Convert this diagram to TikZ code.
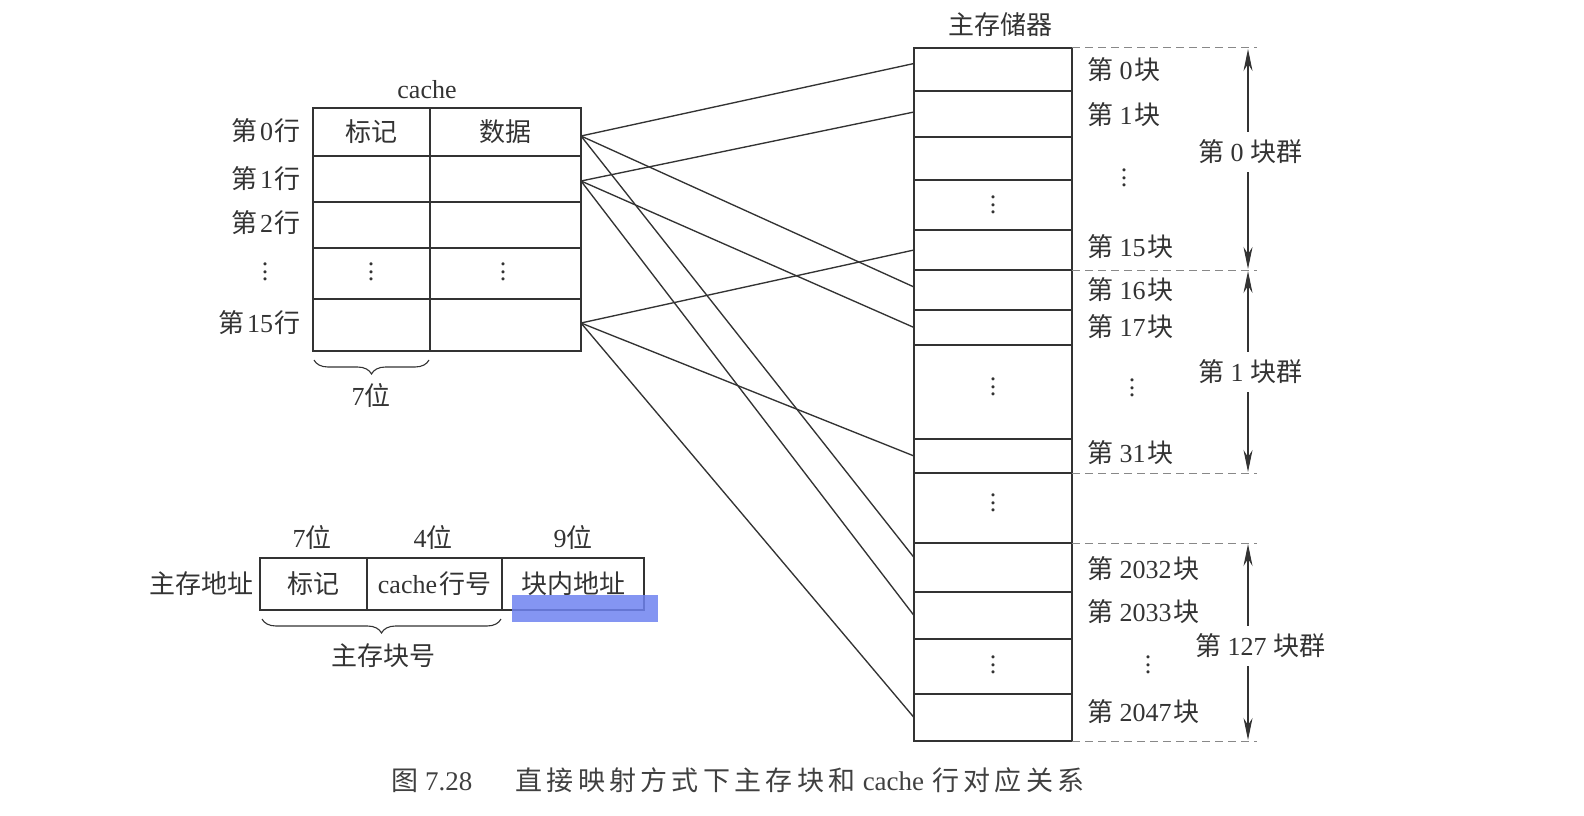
\documentclass[tikz,border=0pt]{standalone}
\usepackage{fontspec}
\setmainfont{Liberation Serif}
\newfontfamily\cjk{Noto Sans CJK SC}
\newcommand\zh[1]{{\cjk #1}}
\newcommand\vdts{\vbox{\baselineskip=7.5pt\lineskiplimit=-20pt\hbox{.}\hbox{.}\hbox{.}}}
\def\spc#1{\ifx\relax#1\else{\cjk #1}\kern4.3pt\expandafter\spc\fi}
\usetikzlibrary{arrows.meta,decorations.pathreplacing}
\definecolor{ink}{HTML}{333333}
\definecolor{dashink}{HTML}{888888}
\definecolor{hl}{RGB}{110,130,240}
\begin{document}
\begin{tikzpicture}[x=1pt,y=-1pt,
  every node/.style={font=\fontsize{26}{30}\selectfont, text=ink, inner sep=0pt, outer sep=0pt},
  cell/.style={draw=ink, line width=1.3pt, anchor=north west},
  conn/.style={draw=ink, line width=1.35pt},
  dashln/.style={draw=dashink, line width=1pt, dash pattern=on 8pt off 5pt},
  garrow/.style={draw=ink, line width=1.1pt, {Stealth[length=22pt,width=9pt]}-{Stealth[length=22pt,width=9pt]}},
  brc/.style={draw=ink, line width=1.1pt, decorate, decoration={brace, amplitude=14pt, mirror}}]
\useasboundingbox (0,0) rectangle (1584,816);

% ---------- cache ----------
\node (cachetitle) at (427,90) {cache};
\node[cell, minimum width=117, minimum height=48] (c0t) at (313,108) {\zh{标记}};
\node[cell, minimum width=151, minimum height=48] (c0d) at (430,108) {\zh{数据}};
\node[cell, minimum width=117, minimum height=46] (c1t) at (313,156) {};
\node[cell, minimum width=151, minimum height=46] (c1d) at (430,156) {};
\node[cell, minimum width=117, minimum height=46] (c2t) at (313,202) {};
\node[cell, minimum width=151, minimum height=46] (c2d) at (430,202) {};
\node[cell, minimum width=117, minimum height=51] (cxt) at (313,248) {};
\node[cell, minimum width=151, minimum height=51] (cxd) at (430,248) {};
\node (cxtd) at (371,272) {\vdts};
\node (cxdd) at (503,272) {\vdts};
\node[cell, minimum width=117, minimum height=52] (c15t) at (313,299) {};
\node[cell, minimum width=151, minimum height=52] (c15d) at (430,299) {};

\node[anchor=east] (r0) at (300,131) {\zh{第}\kern3pt0\kern1pt\zh{行}};
\node[anchor=east] (r1) at (300,179) {\zh{第}\kern3pt1\kern1pt\zh{行}};
\node[anchor=east] (r2) at (300,223) {\zh{第}\kern3pt2\kern1pt\zh{行}};
\node (rx) at (265,272) {\vdts};
\node[anchor=east] (r15) at (300,323) {\zh{第}\kern3pt15\kern1pt\zh{行}};

\coordinate (bra) at (314,360);
\coordinate (brb) at (429,360);
\draw[brc] (bra) -- (brb);
\node (sevenbit) at (371,395) {7\zh{位}};

% ---------- main memory ----------
\node (memtitle) at (1000,25) {\zh{主存储器}};
\node[cell, minimum width=158, minimum height=43] (m0) at (914,48) {};
\node[cell, minimum width=158, minimum height=46] (m1) at (914,91) {};
\node[cell, minimum width=158, minimum height=43] (ma) at (914,137) {};
\node[cell, minimum width=158, minimum height=50] (mb) at (914,180) {};
\node[cell, minimum width=158, minimum height=40] (m15) at (914,230) {};
\node[cell, minimum width=158, minimum height=40] (m16) at (914,270) {};
\node[cell, minimum width=158, minimum height=35] (m17) at (914,310) {};
\node[cell, minimum width=158, minimum height=94] (mc) at (914,345) {};
\node[cell, minimum width=158, minimum height=34] (m31) at (914,439) {};
\node[cell, minimum width=158, minimum height=70] (md) at (914,473) {};
\node[cell, minimum width=158, minimum height=49] (m2032) at (914,543) {};
\node[cell, minimum width=158, minimum height=47] (m2033) at (914,592) {};
\node[cell, minimum width=158, minimum height=55] (me) at (914,639) {};
\node[cell, minimum width=158, minimum height=47] (m2047) at (914,694) {};
\node (mbd) at (993,205) {\vdts};
\node (mcd) at (993,387) {\vdts};
\node (mdd) at (993,503) {\vdts};
\node (med) at (993,665) {\vdts};

% block labels
\node[anchor=west] (l0) at (1087,70) {\zh{第} 0\kern2pt\zh{块}};
\node[anchor=west] (l1) at (1087,115) {\zh{第} 1\kern2pt\zh{块}};
\node (lx0) at (1124,178) {\vdts};
\node[anchor=west] (l15) at (1087,247) {\zh{第} 15\kern2pt\zh{块}};
\node[anchor=west] (l16) at (1087,290) {\zh{第} 16\kern2pt\zh{块}};
\node[anchor=west] (l17) at (1087,327) {\zh{第} 17\kern2pt\zh{块}};
\node (lx1) at (1132,388) {\vdts};
\node[anchor=west] (l31) at (1087,453) {\zh{第} 31\kern2pt\zh{块}};
\node[anchor=west] (l2032) at (1087,569) {\zh{第} 2032\kern2pt\zh{块}};
\node[anchor=west] (l2033) at (1087,612) {\zh{第} 2033\kern2pt\zh{块}};
\node (lx2) at (1148,665) {\vdts};
\node[anchor=west] (l2047) at (1087,712) {\zh{第} 2047\kern2pt\zh{块}};

% dashed group boundaries
\coordinate (d0) at (1257,48);
\coordinate (d1) at (1257,270);
\coordinate (d2) at (1257,473);
\coordinate (d3) at (1257,543);
\coordinate (d4) at (1257,741);
\draw[dashln] (m0.north east) -- (d0);
\draw[dashln] (m16.north east) -- (d1);
\draw[dashln] (md.north east) -- (d2);
\draw[dashln] (m2032.north east) -- (d3);
\draw[dashln] (m2047.south east) -- (d4);

% group arrows
\coordinate (g0a) at (1248,49);
\coordinate (g0b) at (1248,269);
\coordinate (g1a) at (1248,271);
\coordinate (g1b) at (1248,472);
\coordinate (g2a) at (1248,544);
\coordinate (g2b) at (1248,740);
\draw[garrow] (g0a) -- (g0b);
\draw[garrow] (g1a) -- (g1b);
\draw[garrow] (g2a) -- (g2b);
\node[fill=white, inner ysep=8pt, inner xsep=2pt] (grp0) at (1250,152) {\zh{第} 0 \zh{块群}};
\node[fill=white, inner ysep=8pt, inner xsep=2pt] (grp1) at (1250,372) {\zh{第} 1 \zh{块群}};
\node[fill=white, inner ysep=8pt, inner xsep=2pt] (grp127) at (1260,646) {\zh{第} 127 \zh{块群}};

% ---------- connectors ----------
\draw[conn] ([yshift=-4pt]c0d.east) -- ([yshift=6pt]m0.west);
\draw[conn] ([yshift=-4pt]c0d.east) -- ([yshift=3pt]m16.west);
\draw[conn] ([yshift=-4pt]c0d.east) -- ([yshift=10pt]m2032.west);
\draw[conn] ([yshift=-2pt]c1d.east) -- ([yshift=2pt]m1.west);
\draw[conn] ([yshift=-2pt]c1d.east) -- (m17.west);
\draw[conn] ([yshift=-2pt]c1d.east) -- (m2033.west);
\draw[conn] ([yshift=2pt]c15d.east) -- (m15.west);
\draw[conn] ([yshift=2pt]c15d.east) -- (m31.west);
\draw[conn] ([yshift=2pt]c15d.east) -- (m2047.west);

% ---------- address format ----------
\node[cell, minimum width=107, minimum height=52] (a1) at (260,558) {\zh{标记}};
\node[cell, minimum width=135, minimum height=52] (a2) at (367,558) {cache\kern2pt\zh{行号}};
\node[cell, minimum width=142, minimum height=52] (a3) at (502,558) {\zh{块内地址}};
\node[anchor=east] (addr) at (253,584) {\zh{主存地址}};
\node (b7) at (312,537) {7\zh{位}};
\node (b4) at (433,537) {4\zh{位}};
\node (b9) at (573,537) {9\zh{位}};
\coordinate (abra) at (262,619);
\coordinate (abrb) at (501,619);
\draw[brc] (abra) -- (abrb);
\node (blockno) at (383,656) {\zh{主存块号}};
\fill[hl, opacity=0.85] (512,595) rectangle (658,622);

% ---------- caption ----------
\node[anchor=west, font=\fontsize{27}{30}\selectfont, text=black!75] (caption) at (391,780)
  {\zh{图}\kern7pt 7.28\hspace{1.6em}\spc 直接映射方式下主存块和\relax\kern3pt cache\kern8pt\spc 行对应关系\relax};
\end{tikzpicture}
\end{document}
